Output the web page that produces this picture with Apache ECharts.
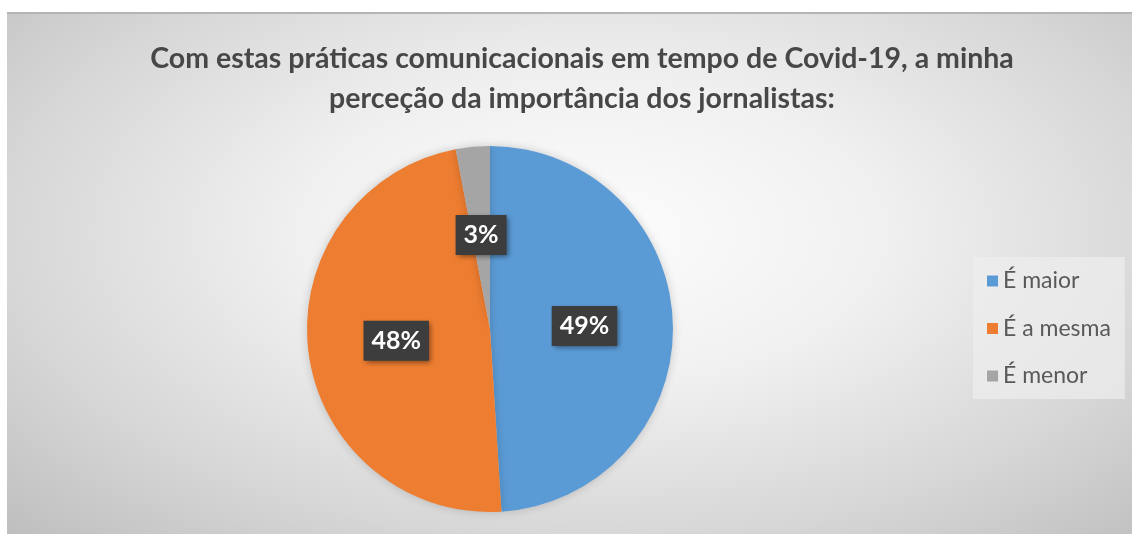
<!DOCTYPE html>
<html>
<head>
<meta charset="utf-8">
<script src="https://cdn.jsdelivr.net/npm/echarts@6/dist/echarts.min.js"></script>
<style>
  html, body { margin: 0; padding: 0; background: #ffffff; }
  #chart {
    position: absolute; left: 7px; top: 12px; width: 1125px; height: 522px;
    box-sizing: border-box; border-top: 2px solid #b4b4b4;
    background: radial-gradient(ellipse 75% 85% at 52% 42%, #fdfdfd 0%, #f0f0f0 35%, #d6d6d6 70%, #bcbcbc 100%);
  }
</style>
</head>
<body>
<div id="chart"></div>
<script>
// Survey answers and their shares (percent)
const categories = ['É maior', 'É a mesma', 'É menor'];
const shares = [49, 48, 3];
const sliceColors = ['#5B9BD5', '#ED7D31', '#A5A5A5'];
const titleLines = [
  'Com estas práticas comunicacionais em tempo de Covid-19, a minha',
  'perceção da importância dos jornalistas:'
];

const chart = echarts.init(document.getElementById('chart'), null, { renderer: 'canvas' });

chart.setOption({
  backgroundColor: 'transparent',
  color: sliceColors,
  title: {
    text: titleLines.join('\n'),
    left: 570, top: 20, textAlign: 'center',
    textStyle: {
      fontFamily: 'Lato', fontWeight: 'bold', fontSize: 28.5,
      color: '#474747', lineHeight: 40
    }
  },
  legend: {
    orient: 'vertical',
    left: 966, top: 243,
    icon: 'rect', itemWidth: 11, itemHeight: 11, itemGap: 23.5, itemTextGap: 5,
    padding: [12, 14, 11, 14],
    backgroundColor: 'rgba(238,238,238,0.7)',
    textStyle: { fontFamily: 'Lato', fontSize: 23, color: '#595959', lineHeight: 24 },
    data: categories
  },
  series: [{
    type: 'pie',
    center: [483, 315],
    radius: 183,
    startAngle: 90,
    clockwise: true,
    avoidLabelOverlap: false,
    itemStyle: { borderWidth: 0, shadowBlur: 10, shadowColor: 'rgba(0,0,0,0.18)' },
    label: {
      show: true, position: 'inside',
      formatter: '{c}%',
      fontFamily: 'Lato', fontWeight: 'bold', fontSize: 25, lineHeight: 26, color: '#ffffff',
      backgroundColor: '#3d3d3d', padding: [7, 8, 7, 8],
      shadowBlur: 5, shadowOffsetX: 2, shadowOffsetY: 2, shadowColor: 'rgba(0,0,0,0.45)'
    },
    labelLine: { show: false },
    emphasis: { disabled: true },
    data: categories.map((name, i) => ({ name, value: shares[i] }))
  }]
});
</script>
</body>
</html>
